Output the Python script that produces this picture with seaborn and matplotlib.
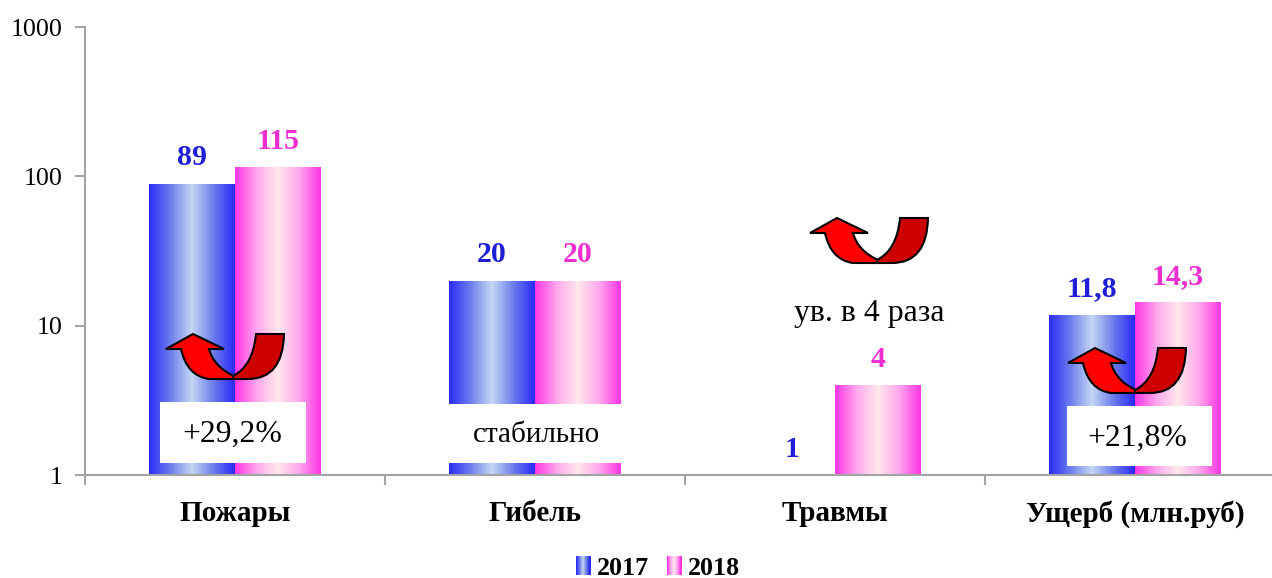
import numpy as np
import pandas as pd
import matplotlib
matplotlib.use("Agg")
import matplotlib.pyplot as plt
from matplotlib.colors import LinearSegmentedColormap
from matplotlib.legend_handler import HandlerBase
from matplotlib.patches import PathPatch, Rectangle
from matplotlib.path import Path
from matplotlib.ticker import FixedLocator, FixedFormatter, NullLocator
import seaborn as sns

categories = ["Пожары", "Гибель", "Травмы", "Ущерб (млн.руб)"]
years = ["2017", "2018"]
values_2017 = [89, 20, 1, 11.8]
values_2018 = [115, 20, 4, 14.3]
y_ticks = [1, 10, 100, 1000]
changes = ["+29,2%", "стабильно", "ув. в 4 раза", "+21,8%"]

W, H = 1272, 578
sns.set_theme(style="white")
plt.rcParams["font.family"] = ["Liberation Serif", "DejaVu Serif"]

BLUE = ["#2c2cf6", "#6d7fec", "#c4d6f2", "#6d7fec", "#2c2cf6"]
PINK = ["#ff38e4", "#ffa8ec", "#ffe8ec", "#ffa8ec", "#ff38e4"]
cmaps = {"2017": LinearSegmentedColormap.from_list("b", BLUE),
         "2018": LinearSegmentedColormap.from_list("p", PINK)}
label_colors = {"2017": "#1f1fd8", "2018": "#ec2fd0"}

df = pd.DataFrame({
    "cat": categories * 2,
    "year": [years[0]] * 4 + [years[1]] * 4,
    "val": values_2017 + values_2018,
})

fig = plt.figure(figsize=(W / 100, H / 100), dpi=100)
ax = fig.add_axes([85 / W, (H - 475) / H, 1200 / W, 448 / H])
sns.barplot(data=df, x="cat", y="val", hue="year", hue_order=years, order=categories,
            width=0.573, gap=0, log_scale=True, palette=[BLUE[0], PINK[0]],
            linewidth=0, legend=False, errorbar=None, ax=ax)

ax.set_ylim(y_ticks[0], y_ticks[-1])
ax.set_xlim(-0.5, 3.5)

# gradient fill and value label for every bar
grad = np.linspace(0, 1, 65)
for year, container in zip(years, ax.containers):
    for bar, val in zip(container.patches, df.loc[df.year == year, "val"]):
        x0, w = bar.get_x(), bar.get_width()
        top = bar.get_y() + bar.get_height()
        if top > y_ticks[0]:
            xe = np.linspace(x0, x0 + w, 65 + 1)
            ax.pcolormesh(xe, [y_ticks[0], top], grad[None, :], cmap=cmaps[year],
                          shading="flat", antialiased=False, linewidth=0, zorder=3)
        txt = f"{val:g}".replace(".", ",")
        ax.annotate(txt, (x0 + w / 2, top), xytext=(0, 13.3), textcoords="offset points",
                    ha="center", va="baseline", fontsize=21.5, fontweight="bold",
                    color=label_colors[year], zorder=6, annotation_clip=False)
ax.set_xlim(-0.5, 3.5)
ax.set_ylim(y_ticks[0], y_ticks[-1])

# axes styling
GRAY = "#a3a3a3"
for s in ("top", "right"):
    ax.spines[s].set_visible(False)
for s in ("left", "bottom"):
    ax.spines[s].set_color(GRAY)
    ax.spines[s].set_linewidth(1.5)
    ax.spines[s].set_zorder(5)
ax.yaxis.set_major_locator(FixedLocator(y_ticks))
ax.yaxis.set_major_formatter(FixedFormatter([str(t) for t in y_ticks]))
ax.yaxis.set_minor_locator(NullLocator())
ax.tick_params(axis="y", which="major", left=True, length=7.2, width=1.5, color=GRAY,
               pad=9, labelsize=18.7, labelcolor="black")
ax.set_xticks(range(4))
ax.set_xticklabels(categories, fontsize=21, fontweight="bold", color="black")
ax.set_xticks(np.arange(-0.5, 4), minor=True)
ax.tick_params(axis="x", which="major", length=0, pad=18)
ax.tick_params(axis="x", which="minor", bottom=True, length=7.2, width=1.5, color=GRAY)
ax.set_xlabel("")
ax.set_ylabel("")


def px(x, y):
    """Reference pixel position to figure fraction."""
    return x / W, (H - y) / H


# change annotations: white boxes and text
boxes = [(160, 402, 146, 61), (440, 404, 190, 59), (1067, 406, 145, 60)]
for (x, y, w, h) in boxes:
    fig.add_artist(Rectangle(px(x, y + h), w / W, h / H, transform=fig.transFigure,
                             facecolor="white", edgecolor="none", zorder=7))
notes = [(232, 434, changes[0], 22.9), (536, 435, changes[1], 21),
         (869, 313, changes[2], 22.9), (1137, 438, changes[3], 22.9)]
for x, y, t, fs in notes:
    fig.text(*px(x, y), t, ha="center", va="center", fontsize=fs, color="black", zorder=8)

# curved arrows, shapes relative to the joint point, in pixels, y up
light = [(Path.MOVETO, (-67, 27)), (Path.LINETO, (-40, 42)), (Path.LINETO, (-9, 27)),
         (Path.LINETO, (-24, 27)), (Path.CURVE3, (-19, 9)), (Path.CURVE3, (1, 0)),
         (Path.LINETO, (1, -3)), (Path.LINETO, (-24, -3)), (Path.CURVE3, (-46, 0)),
         (Path.CURVE3, (-52, 27)), (Path.CLOSEPOLY, (-67, 27))]
dark = [(Path.MOVETO, (0, 0)), (Path.CURVE3, (20, 10)), (Path.CURVE3, (23, 42)),
        (Path.LINETO, (51, 42)), (Path.CURVE3, (50, -3)), (Path.CURVE3, (15, -3)),
        (Path.LINETO, (0, -3)), (Path.CLOSEPOLY, (0, 0))]
for ax_px, ay_px in [(233, 376), (877, 260), (1135, 390)]:
    for shape, color in ((light, "#ff0000"), (dark, "#cc0000")):
        codes = [c for c, _ in shape]
        verts = [((ax_px + dx) / W, (H - ay_px + dy) / H) for _, (dx, dy) in shape]
        fig.add_artist(PathPatch(Path(verts, codes), transform=fig.transFigure,
                                 facecolor=color, edgecolor="black", linewidth=1.5,
                                 joinstyle="miter", zorder=9))


# legend with gradient swatches
class GradientHandler(HandlerBase):
    def create_artists(self, legend, orig, xd, yd, width, height, fontsize, trans):
        n = 14
        return [Rectangle((width * i / n, -yd), width / n + 0.3, height,
                          facecolor=orig.cmap(i / (n - 1)), edgecolor="none", transform=trans)
                for i in range(n)]


class Swatch(Rectangle):
    def __init__(self, cmap):
        super().__init__((0, 0), 1, 1)
        self.cmap = cmap


handles = [Swatch(cmaps[y]) for y in years]
fig.legend(handles, years, handler_map={Swatch: GradientHandler()}, loc="center",
           bbox_to_anchor=px(658, 568), ncol=2, frameon=False, handlelength=0.55,
           handleheight=0.75, handletextpad=0.25, columnspacing=0.7, borderpad=0,
           labelcolor="black", prop={"size": 18.7, "weight": "bold"})

fig.savefig("out.png", dpi=100, facecolor="white")
